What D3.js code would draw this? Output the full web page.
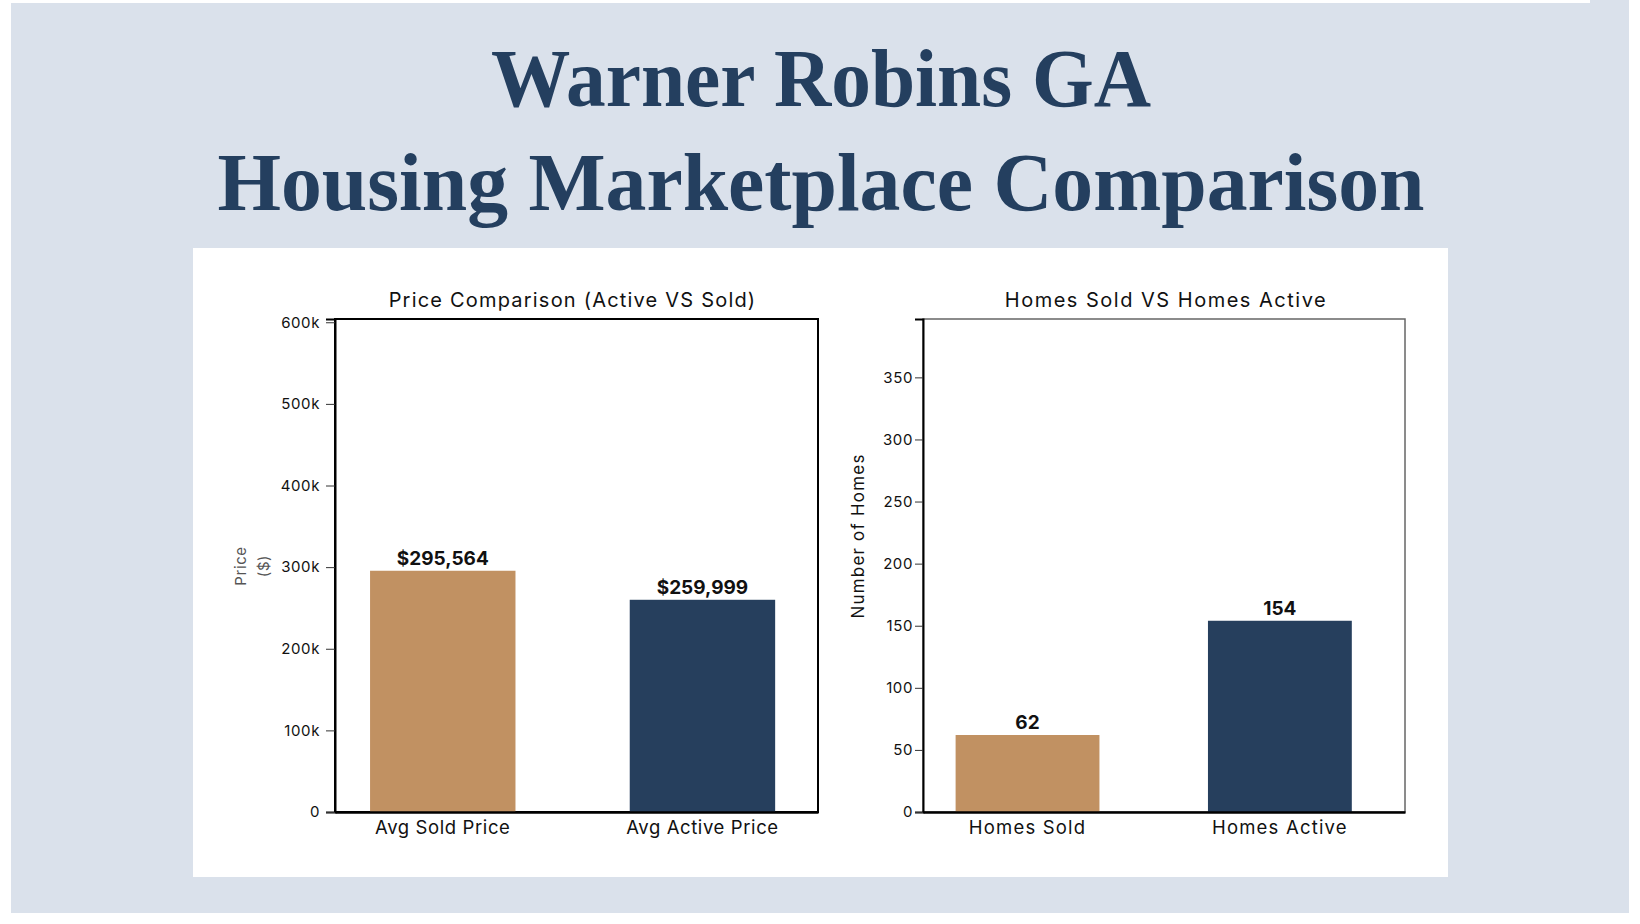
<!DOCTYPE html>
<html>
<head>
<meta charset="utf-8">
<script src="https://cdn.jsdelivr.net/npm/d3@7"></script>
<style>
  body { margin: 0; background: #ffffff; }
  .axis text { font-family: Inter, "DejaVu Sans", sans-serif; fill: #111; }
  .lbl { font-family: Inter, "DejaVu Sans", sans-serif; }
</style>
</head>
<body>
<svg id="chart" width="1640" height="924"></svg>
<script>
// chart data
const priceCategories = ['Avg Sold Price', 'Avg Active Price'];
const priceValues = [295564, 259999];
const priceLabels = ['$295,564', '$259,999'];
const priceTicks = [0, 100000, 200000, 300000, 400000, 500000, 600000];

const homeCategories = ['Homes Sold', 'Homes Active'];
const homeValues = [62, 154];
const homeTicks = [0, 50, 100, 150, 200, 250, 300, 350];

const barColors = ['#c19162', '#263f5d'];

const svg = d3.select('#chart');

// background
svg.append('rect').attr('x', 11).attr('y', 0).attr('width', 1618).attr('height', 913).attr('fill', '#dae1eb');
svg.append('rect').attr('x', 0).attr('y', 0).attr('width', 1590).attr('height', 3).attr('fill', '#ffffff');
svg.append('rect').attr('x', 193).attr('y', 248).attr('width', 1255).attr('height', 629).attr('fill', '#ffffff');

// title
const titleLines = [
  { text: 'Warner Robins GA', y: 106, len: 660 },
  { text: 'Housing Marketplace Comparison', y: 210, len: 1207 },
];
titleLines.forEach((t) => {
  svg.append('text')
    .attr('x', 821)
    .attr('y', t.y)
    .attr('text-anchor', 'middle')
    .attr('textLength', t.len)
    .attr('lengthAdjust', 'spacingAndGlyphs')
    .style('font-family', '"Liberation Serif", "DejaVu Serif", serif')
    .style('font-weight', 'bold')
    .style('font-size', '82px')
    .style('fill', '#243f5f')
    .text(t.text);
});

function drawBars(opt) {
  const x = d3.scaleBand()
    .domain(opt.categories)
    .range([opt.left, opt.right])
    .paddingInner(opt.padInner)
    .paddingOuter(opt.padOuter)
    .align(opt.align);

  const y = d3.scaleLinear()
    .domain([0, opt.max])
    .range([opt.bottom, opt.top]);

  // frame
  svg.append('rect')
    .attr('x', opt.left)
    .attr('y', opt.top)
    .attr('width', opt.right - opt.left)
    .attr('height', opt.bottom - opt.top)
    .attr('fill', 'none')
    .attr('stroke', opt.frameColor)
    .attr('stroke-width', opt.frameWidth);

  // bars
  opt.values.forEach((v, i) => {
    svg.append('rect')
      .attr('x', x(opt.categories[i]))
      .attr('y', y(v))
      .attr('width', x.bandwidth())
      .attr('height', y(0) - y(v))
      .attr('fill', barColors[i]);

    svg.append('text')
      .attr('class', 'lbl')
      .attr('x', x(opt.categories[i]) + x.bandwidth() / 2)
      .attr('y', y(v) - 6)
      .attr('text-anchor', 'middle')
      .style('font-size', '19px')
      .style('font-weight', 'bold')
      .style('fill', '#111')
      .text(opt.labels[i]);
  });

  // y axis
  const yAxis = svg.append('g')
    .attr('class', 'axis')
    .attr('transform', `translate(${opt.left},0)`)
    .call(d3.axisLeft(y).tickValues(opt.ticks).tickSize(opt.tickSize).tickPadding(opt.tickPad).tickFormat(opt.tickFormat));
  yAxis.select('.domain').attr('stroke', '#000').attr('stroke-width', 2);
  yAxis.selectAll('.tick line').attr('stroke', '#333');
  yAxis.selectAll('text').style('font-size', '15px').style('letter-spacing', '0.6px');

  // x axis
  const xAxis = svg.append('g')
    .attr('class', 'axis')
    .attr('transform', `translate(0,${opt.bottom})`)
    .call(d3.axisBottom(x).tickSize(0).tickPadding(9));
  xAxis.select('.domain').attr('stroke', '#000').attr('stroke-width', 2.5);
  xAxis.selectAll('text').style('font-size', '18.5px').style('letter-spacing', opt.xSpacing);

  // chart title
  svg.append('text')
    .attr('class', 'lbl')
    .attr('x', (opt.left + opt.right) / 2 + opt.titleShift)
    .attr('y', 307)
    .attr('text-anchor', 'middle')
    .style('font-size', '20px')
    .style('letter-spacing', opt.titleSpacing)
    .style('fill', '#111')
    .text(opt.title);

  // y label
  opt.yLabel.forEach((t, i) => {
    svg.append('text')
      .attr('class', 'lbl')
      .attr('transform', `translate(${opt.yLabelX + i * opt.yLabelGap},${opt.yLabelY}) rotate(-90)`)
      .attr('text-anchor', 'middle')
      .attr('dy', '0.35em')
      .style('font-size', opt.yLabelSize)
      .style('letter-spacing', opt.yLabelSpacing)
      .style('fill', opt.yLabelColor)
      .text(t);
  });
}

drawBars({
  categories: priceCategories,
  values: priceValues,
  labels: priceLabels,
  ticks: priceTicks,
  tickFormat: (d) => (d === 0 ? '0' : d / 1000 + 'k'),
  tickSize: 9, tickPad: 6,
  max: 604000,
  left: 335, right: 818, top: 319, bottom: 812,
  padInner: 0.44, padOuter: 0.15, align: 0.45,
  frameColor: '#000', frameWidth: 2,
  title: 'Price Comparison (Active VS Sold)',
  titleShift: -4,
  titleSpacing: '1.2px',
  xSpacing: '0.6px',
  yLabel: ['Price', '($)'],
  yLabelX: 241, yLabelY: 566, yLabelGap: 23,
  yLabelSize: '15px', yLabelSpacing: '0.6px', yLabelColor: '#555',
});

drawBars({
  categories: homeCategories,
  values: homeValues,
  labels: homeValues.map(String),
  ticks: homeTicks,
  tickFormat: d3.format('d'),
  tickSize: 8, tickPad: 2,
  max: 397,
  left: 923, right: 1405, top: 319, bottom: 812,
  padInner: 0.43, padOuter: 0.17, align: 0.38,
  frameColor: '#666', frameWidth: 1.5,
  title: 'Homes Sold VS Homes Active',
  titleShift: 2,
  titleSpacing: '1.5px',
  xSpacing: '1.2px',
  yLabel: ['Number of Homes'],
  yLabelX: 858, yLabelY: 536, yLabelGap: 0,
  yLabelSize: '17px', yLabelSpacing: '1.2px', yLabelColor: '#111',
});
</script>
</body>
</html>
